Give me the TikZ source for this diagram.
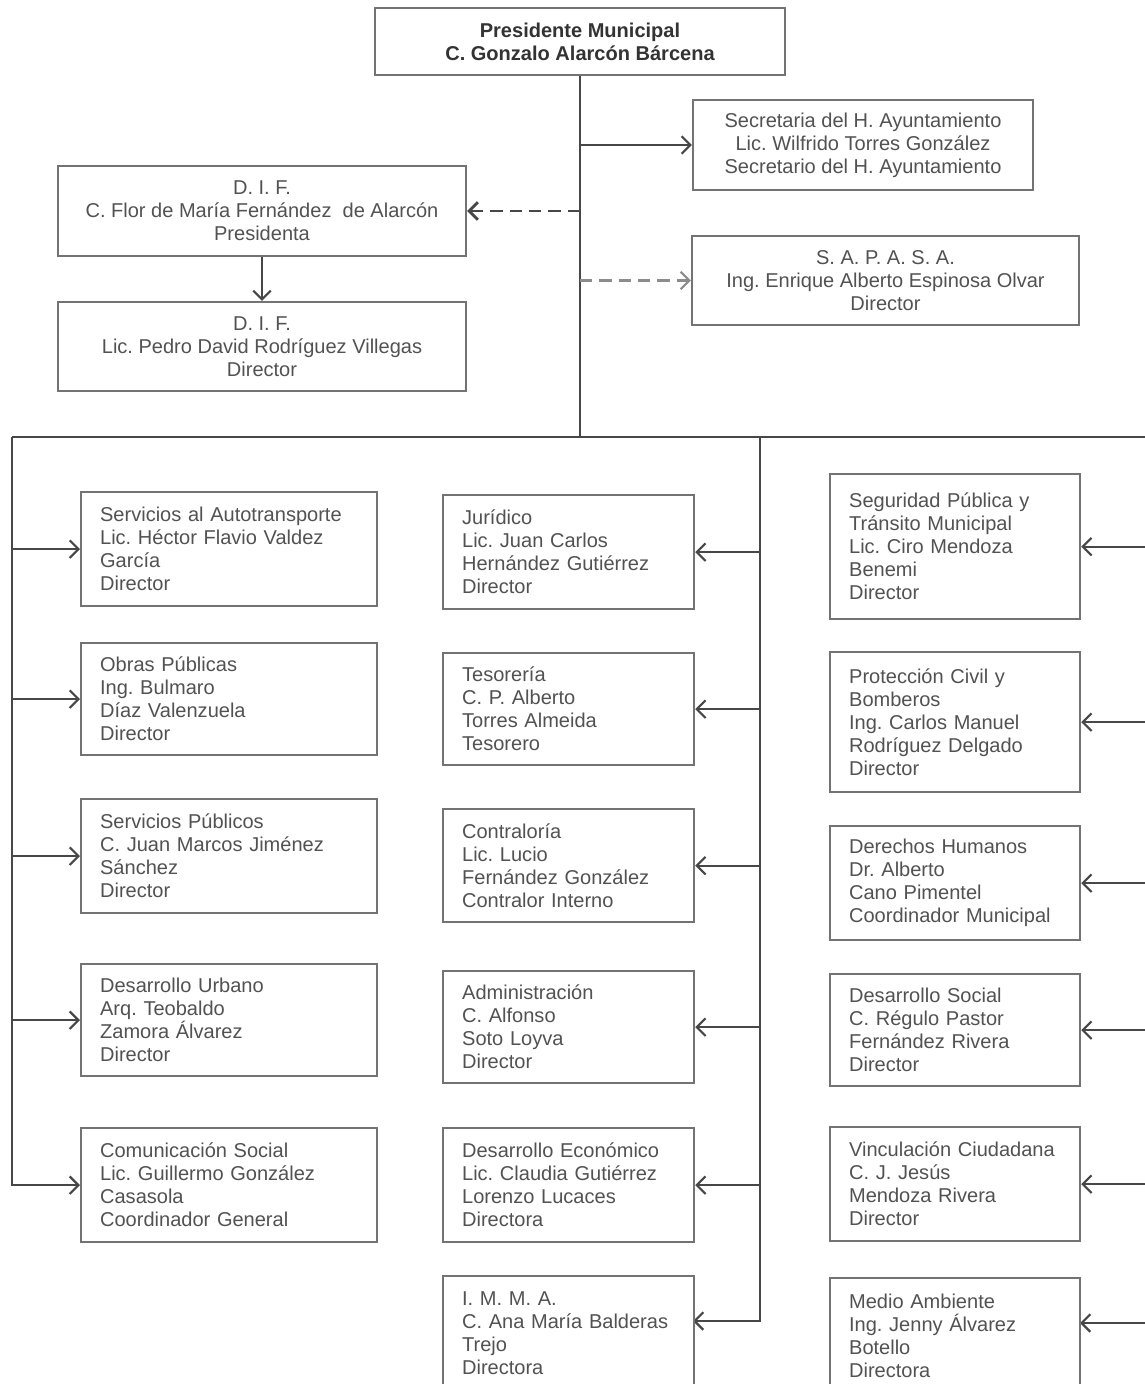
\documentclass[tikz,border=0pt]{standalone}
\usepackage{fontspec}
\setmainfont{Liberation Sans}
\usetikzlibrary{arrows.meta,backgrounds}
\definecolor{boxgray}{gray}{0.45}
\definecolor{txtgray}{gray}{0.32}
\definecolor{linegray}{gray}{0.28}
\newcommand{\unitfont}{\fontsize{11.4}{13.1}\selectfont}
\frenchspacing

\begin{document}
\begin{tikzpicture}[x=0.02cm,y=-0.02cm]
	% `unit' is used for the boxes of the three columns (text on the left).
	% `head' is used for the boxes at the top (text centred).
	\tikzstyle{unit} = [draw=boxgray,line width=1.3pt,fill=white,anchor=north west,inner xsep=0.38cm,inner ysep=0pt,align=left,text=txtgray,font=\unitfont]
	\tikzstyle{lunit} = [unit,text width=5.16cm,minimum height=2.28cm]
	\tikzstyle{munit} = [unit,text width=4.26cm,minimum height=2.26cm]
	\tikzstyle{runit} = [unit,text width=4.24cm,minimum height=2.26cm]
	\tikzstyle{head} = [draw=boxgray,line width=1.3pt,fill=white,align=center,text=txtgray,font=\unitfont,minimum height=1.8cm]
	\tikzstyle{link} = [draw=linegray,line width=1.25pt]
	\tikzstyle{arrow} = [link,-{Straight Barb[length=5pt,width=10pt]}]
	\tikzstyle{darr} = [arrow,line width=1.6pt,dash pattern=on 7pt off 4pt]
	\tikzstyle{larr} = [arrow,draw=black!45,dash pattern=on 7pt off 4pt]
	%
	\clip (0,0) rectangle (1145,1384);
	% Top boxes.
	\node[head,minimum width=8.2cm,minimum height=1.34cm,text=black!80,font=\unitfont\bfseries] (pres) at (580,41.5) {Presidente Municipal\\C. Gonzalo Alarcón Bárcena};
	\node[head,minimum width=6.8cm] (sec) at (863,145) {Secretaria del H. Ayuntamiento\\Lic. Wilfrido Torres González\\Secretario del H. Ayuntamiento};
	\node[head,minimum width=8.16cm] (dif1) at (262,211) {D. I. F.\\C. Flor de María Fernández \ de Alarcón\\Presidenta};
	\node[head,minimum width=8.16cm,minimum height=1.78cm] (dif2) at (262,346.5) {D. I. F.\\Lic. Pedro David Rodríguez Villegas\\Director};
	\node[head,minimum width=7.74cm,minimum height=1.78cm] (sap) at (885.5,280.5) {S. A. P. A. S. A.\\Ing. Enrique Alberto Espinosa Olvar\\Director};
	%
	% Left column.
	\node[lunit] (l1) at (80,491) {Servicios al Autotransporte\\Lic. Héctor Flavio Valdez\\García\\Director};
	\node[lunit,minimum height=2.24cm] (l2) at (80,642) {Obras Públicas\\Ing. Bulmaro\\Díaz Valenzuela\\Director};
	\node[lunit] (l3) at (80,798) {Servicios Públicos\\C. Juan Marcos Jiménez\\Sánchez\\Director};
	\node[lunit,minimum height=2.24cm] (l4) at (80,963) {Desarrollo Urbano\\Arq. Teobaldo\\Zamora Álvarez\\Director};
	\node[lunit] (l5) at (80,1127) {Comunicación Social\\Lic. Guillermo González\\Casasola\\Coordinador General};
	% Middle column.
	\node[munit,minimum height=2.28cm] (m1) at (442,494) {Jurídico\\Lic. Juan Carlos\\Hernández Gutiérrez\\Director};
	\node[munit,minimum height=2.24cm] (m2) at (442,652) {Tesorería\\C. P. Alberto\\Torres Almeida\\Tesorero};
	\node[munit] (m3) at (442,808) {Contraloría\\Lic. Lucio\\Fernández González\\Contralor Interno};
	\node[munit,minimum height=2.24cm] (m4) at (442,970) {Administración\\C. Alfonso\\Soto Loyva\\Director};
	\node[munit,minimum height=2.28cm] (m5) at (442,1127) {Desarrollo Económico\\Lic. Claudia Gutiérrez\\Lorenzo Lucaces\\Directora};
	\node[munit,minimum height=2.3cm] (m6) at (442,1275) {I. M. M. A.\\C. Ana María Balderas\\Trejo\\Directora};
	% Right column.
	\node[runit,minimum height=2.9cm] (r1) at (829,473) {Seguridad Pública y\\Tránsito Municipal\\Lic. Ciro Mendoza\\Benemi\\Director};
	\node[runit,minimum height=2.8cm] (r2) at (829,651) {Protección Civil y\\Bomberos\\Ing. Carlos Manuel\\Rodríguez Delgado\\Director};
	\node[runit,minimum height=2.28cm] (r3) at (829,825) {Derechos Humanos\\Dr. Alberto\\Cano Pimentel\\Coordinador Municipal};
	\node[runit,minimum height=2.24cm] (r4) at (829,973) {Desarrollo Social\\C. Régulo Pastor\\Fernández Rivera\\Director};
	\node[runit,minimum height=2.28cm] (r5) at (829,1126) {Vinculación Ciudadana\\C. J. Jesús\\Mendoza Rivera\\Director};
	\node[runit,minimum height=2.3cm] (r6) at (829,1277) {Medio Ambiente\\Ing. Jenny Álvarez\\Botello\\Directora};
	%
	\begin{pgfonlayer}{background}
		\fill[white] (0,0) rectangle (1145,1384);
		% Draw lines.
		\coordinate (top) at (580,437);
		\coordinate (lend) at (12,437);
		\coordinate (mjoin) at (760,437);
		\coordinate (rend) at (1145,437);
		\coordinate (m6in) at (693,1321);
		\coordinate (r6in) at (1080,1323);
		\draw[link] (pres) -- (top);
		\draw[link] (lend) -- (rend);
		\draw[arrow] (top |- sec) -- (sec);
		\draw[darr] (top |- dif1) -- (dif1);
		\draw[larr] (top |- sap) -- (sap);
		\draw[arrow] (dif1) -- (dif2);
		% Left column.
		\draw[arrow] (lend) |- (l5);
		\draw[arrow] (lend |- l1) -- (l1);
		\draw[arrow] (lend |- l2) -- (l2);
		\draw[arrow] (lend |- l3) -- (l3);
		\draw[arrow] (lend |- l4) -- (l4);
		% Middle column.
		\draw[arrow] (mjoin) |- (m6in);
		\draw[arrow] (mjoin |- m1) -- (m1);
		\draw[arrow] (mjoin |- m2) -- (m2);
		\draw[arrow] (mjoin |- m3) -- (m3);
		\draw[arrow] (mjoin |- m4) -- (m4);
		\draw[arrow] (mjoin |- m5) -- (m5);
		% Right column.
		\draw[arrow] (rend |- r1) -- (r1);
		\draw[arrow] (rend |- r2) -- (r2);
		\draw[arrow] (rend |- r3) -- (r3);
		\draw[arrow] (rend |- r4) -- (r4);
		\draw[arrow] (rend |- r5) -- (r5);
		\draw[arrow] (rend |- r6in) -- (r6in);
	\end{pgfonlayer}
%
\end{tikzpicture}
\end{document}
